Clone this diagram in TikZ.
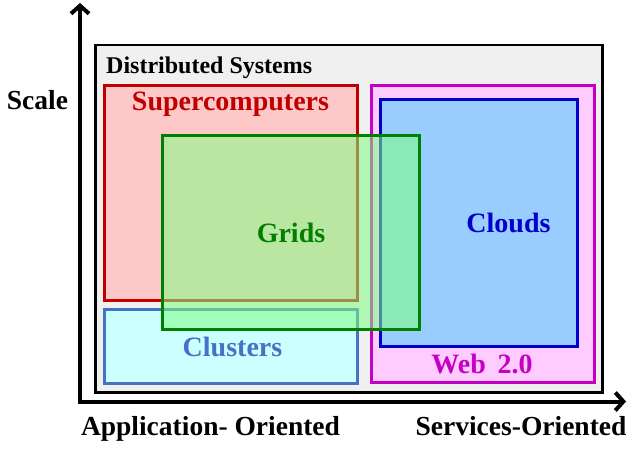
\documentclass[tikz,border=0pt]{standalone}
\usepackage{fontspec}
\setmainfont{Liberation Serif}
\usetikzlibrary{arrows.meta}

\definecolor{distfill}{RGB}{240,240,240}
\definecolor{supfill}{RGB}{255,200,200}
\definecolor{supline}{RGB}{192,0,0}
\definecolor{clufill}{RGB}{204,255,255}
\definecolor{cluline}{RGB}{68,114,196}
\definecolor{webfill}{RGB}{255,204,255}
\definecolor{webline}{RGB}{196,0,196}
\definecolor{cloudfill}{RGB}{153,204,255}
\definecolor{cloudline}{RGB}{0,0,204}
\definecolor{gridfill}{RGB}{128,255,128}
\definecolor{gridline}{RGB}{0,128,0}

\begin{document}
\begin{tikzpicture}[
    x=1pt, y=-1pt, >={Straight Barb[length=8pt,width=18pt]},
    area/.style={draw, line width=3pt, inner sep=0pt, outer sep=0pt},
    distbox/.style={area, draw=black, fill=distfill, line width=2.5pt},
    supbox/.style={area, draw=supline, fill=supfill},
    clubox/.style={area, draw=cluline, fill=clufill},
    webbox/.style={area, draw=webline, fill=webfill},
    cloudbox/.style={area, draw=cloudline, fill=cloudfill},
    gridbox/.style={area, draw=gridline, fill=gridfill, fill opacity=0.55},
    axis/.style={<->, line width=4pt, line join=miter},
    boxlabel/.style={inner sep=0pt, anchor=base,
                     font=\fontsize{28}{30}\selectfont\bfseries},
    axlabel/.style={inner sep=0pt, anchor=base,
                    font=\fontsize{27.5}{30}\selectfont\bfseries},
]
\useasboundingbox (0,0) rectangle (631,448);

% Axes
\coordinate (ytip) at (80,3);
\coordinate (corner) at (80,401.5);
\coordinate (xtip) at (626,401.5);
\draw[axis] (ytip) -- (corner) -- (xtip);

% Outer box
\node[distbox, minimum width=507pt, minimum height=347.5pt] (dist) at (349,218.75) {};
\node[anchor=base west, inner sep=0pt, font=\fontsize{24}{26}\selectfont\bfseries]
    (distlabel) at (106,73) {Distributed Systems};

% Left column: supercomputers and clusters
\node[supbox, minimum width=253pt, minimum height=215pt] (super) at (231,193) {};
\node[clubox, minimum width=253pt, minimum height=74pt] (clu) at (231,346.5) {};

% Right column: web 2.0 and clouds
\node[webbox, minimum width=223pt, minimum height=297pt] (web) at (483,234) {};
\node[cloudbox, minimum width=197pt, minimum height=247pt] (cloud) at (479,223) {};

% Grids on top, see-through
\node[gridbox, minimum width=257.5pt, minimum height=194pt] (grid) at (290.75,232.5) {};

% Box labels
\node[boxlabel, text=supline] (suplabel) at (230.5,110) {Supercomputers};
\node[boxlabel, text=gridline] (gridlabel) at (291,242) {Grids};
\node[boxlabel, text=cloudline] (cloudlabel) at (508.5,232) {Clouds};
\node[boxlabel, text=cluline] (clulabel) at (232.5,356) {Clusters};
\node[boxlabel, text=webline] (weblabel) at (482,373) {Web\, 2.0};

% Axis labels
\node[axlabel] (scale) at (37.5,109) {Scale};
\node[axlabel] (appl) at (210.5,435) {Application- Oriented};
\node[axlabel] (serv) at (521,435) {Services-Oriented};
\end{tikzpicture}
\end{document}
